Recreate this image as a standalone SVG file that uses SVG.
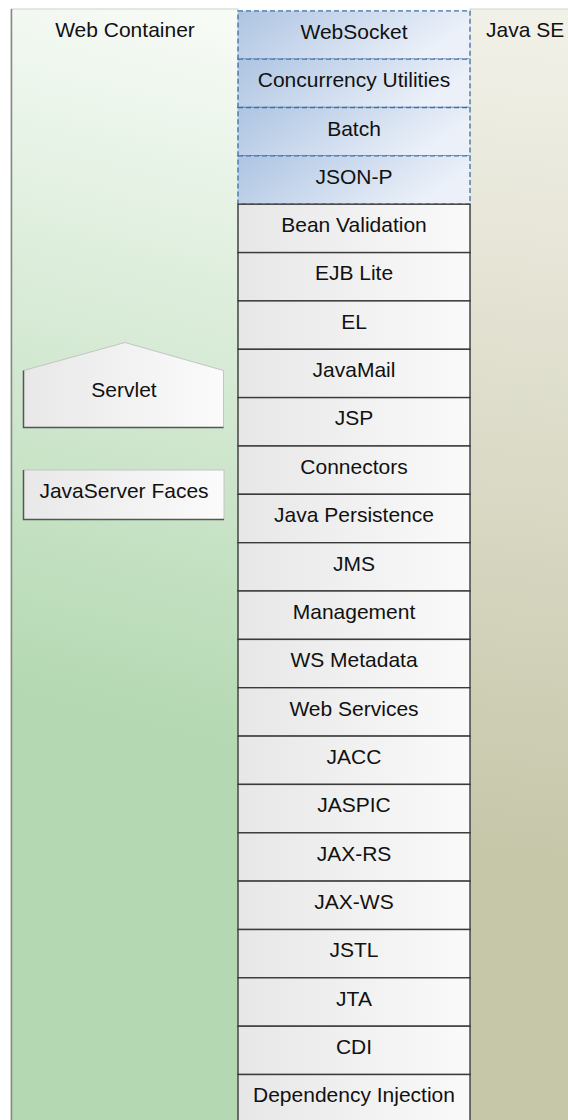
<svg xmlns="http://www.w3.org/2000/svg" width="568" height="1120" viewBox="0 0 568 1120">
<defs>
<linearGradient id="gWeb" gradientUnits="userSpaceOnUse" x1="238" y1="0" x2="60" y2="700">
<stop offset="0" stop-color="#f9fcf8"/><stop offset="1" stop-color="#b4d9b2"/>
</linearGradient>
<linearGradient id="gSE" gradientUnits="userSpaceOnUse" x1="568" y1="0" x2="470" y2="860">
<stop offset="0" stop-color="#f3f2ea"/><stop offset="1" stop-color="#c6c6a9"/>
</linearGradient>
<linearGradient id="gBlue" x1="0" y1="0" x2="1" y2="0.3">
<stop offset="0" stop-color="#adc4e2"/><stop offset="1" stop-color="#ecf1f9"/>
</linearGradient>
<linearGradient id="gGray" x1="0" y1="0" x2="1" y2="0">
<stop offset="0" stop-color="#e7e7e7"/><stop offset="1" stop-color="#fafafa"/>
</linearGradient>
<linearGradient id="gBox" x1="0" y1="0" x2="1" y2="0">
<stop offset="0" stop-color="#e8e8e8"/><stop offset="1" stop-color="#fbfbfb"/>
</linearGradient>
</defs>
<style>
text{font-family:"Liberation Sans",Arial,sans-serif;font-size:21px;fill:#111}
.c{text-anchor:middle}
.blue{fill:url(#gBlue);stroke:#3d6fa6;stroke-width:1.3;stroke-dasharray:5 3}
.gray{fill:url(#gGray);stroke:#3a3a3a;stroke-width:1.4}
.box{fill:url(#gBox);stroke:#c4c4c4;stroke-width:1}
.edge{fill:none;stroke:#555;stroke-width:1.5}
</style>
<g id="web-container">
<rect x="11" y="9" width="227" height="1115" fill="url(#gWeb)" stroke="#c9d6c8" stroke-width="1"/>
<line x1="11.5" y1="9" x2="11.5" y2="1120" stroke="#888" stroke-width="1.5"/>
<text class="c" x="125" y="37">Web Container</text>
</g>
<g id="java-se">
<rect x="470" y="9" width="100" height="1115" fill="url(#gSE)" stroke="#d6d5cc" stroke-width="1"/>
<text x="486" y="37">Java SE</text>
</g>
<g id="servlet">
<path d="M23.5 370.5 L125 342.5 L223.5 370.5 L223.5 427.5 L23.5 427.5 Z" class="box"/>
<path d="M23.5 370.5 L23.5 427.5 L223.5 427.5" class="edge"/>
<text class="c" x="124" y="397">Servlet</text>
</g>
<g id="javaserver-faces">
<rect x="23.5" y="470" width="200.5" height="49.5" class="box"/>
<path d="M23.5 470 L23.5 519.5 L224 519.5" class="edge"/>
<text class="c" x="124" y="498">JavaServer Faces</text>
</g>
<g id="connectors"></g>
<g id="stack">
<g id="websocket"><rect class="blue" x="238" y="10.8" width="232" height="48.4"/><text class="c" x="354" y="38.5">WebSocket</text></g>
<g id="concurrency-utilities"><rect class="blue" x="238" y="59.2" width="232" height="48.3"/><text class="c" x="354" y="87.2">Concurrency Utilities</text></g>
<g id="batch"><rect class="blue" x="238" y="107.5" width="232" height="48.4"/><text class="c" x="354" y="135.5">Batch</text></g>
<g id="json-p"><rect class="blue" x="238" y="155.9" width="232" height="48.3"/><text class="c" x="354" y="183.7">JSON-P</text></g>
<g id="bean-validation"><rect class="gray" x="238" y="204.2" width="232" height="48.4"/><text class="c" x="354" y="232">Bean Validation</text></g>
<g id="ejb-lite"><rect class="gray" x="238" y="252.6" width="232" height="48.3"/><text class="c" x="354" y="280.4">EJB Lite</text></g>
<g id="el"><rect class="gray" x="238" y="300.9" width="232" height="48.4"/><text class="c" x="354" y="328.7">EL</text></g>
<g id="javamail"><rect class="gray" x="238" y="349.3" width="232" height="48.3"/><text class="c" x="354" y="377.1">JavaMail</text></g>
<g id="jsp"><rect class="gray" x="238" y="397.6" width="232" height="48.4"/><text class="c" x="354" y="425.4">JSP</text></g>
<g id="connectors-api"><rect class="gray" x="238" y="446" width="232" height="48.3"/><text class="c" x="354" y="473.8">Connectors</text></g>
<g id="java-persistence"><rect class="gray" x="238" y="494.3" width="232" height="48.4"/><text class="c" x="354" y="522.1">Java Persistence</text></g>
<g id="jms"><rect class="gray" x="238" y="542.7" width="232" height="48.3"/><text class="c" x="354" y="570.5">JMS</text></g>
<g id="management"><rect class="gray" x="238" y="591" width="232" height="48.4"/><text class="c" x="354" y="618.8">Management</text></g>
<g id="ws-metadata"><rect class="gray" x="238" y="639.4" width="232" height="48.3"/><text class="c" x="354" y="667.2">WS Metadata</text></g>
<g id="web-services"><rect class="gray" x="238" y="687.7" width="232" height="48.4"/><text class="c" x="354" y="715.5">Web Services</text></g>
<g id="jacc"><rect class="gray" x="238" y="736.1" width="232" height="48.3"/><text class="c" x="354" y="763.9">JACC</text></g>
<g id="jaspic"><rect class="gray" x="238" y="784.4" width="232" height="48.4"/><text class="c" x="354" y="812.2">JASPIC</text></g>
<g id="jax-rs"><rect class="gray" x="238" y="832.8" width="232" height="48.3"/><text class="c" x="354" y="860.6">JAX-RS</text></g>
<g id="jax-ws"><rect class="gray" x="238" y="881.1" width="232" height="48.4"/><text class="c" x="354" y="908.9">JAX-WS</text></g>
<g id="jstl"><rect class="gray" x="238" y="929.5" width="232" height="48.3"/><text class="c" x="354" y="957.3">JSTL</text></g>
<g id="jta"><rect class="gray" x="238" y="977.8" width="232" height="48.4"/><text class="c" x="354" y="1005.6">JTA</text></g>
<g id="cdi"><rect class="gray" x="238" y="1026.2" width="232" height="48.3"/><text class="c" x="354" y="1054">CDI</text></g>
<g id="dependency-injection"><rect class="gray" x="238" y="1074.5" width="232" height="48.4"/><text class="c" x="354" y="1102">Dependency Injection</text></g>
</g>
</svg>
